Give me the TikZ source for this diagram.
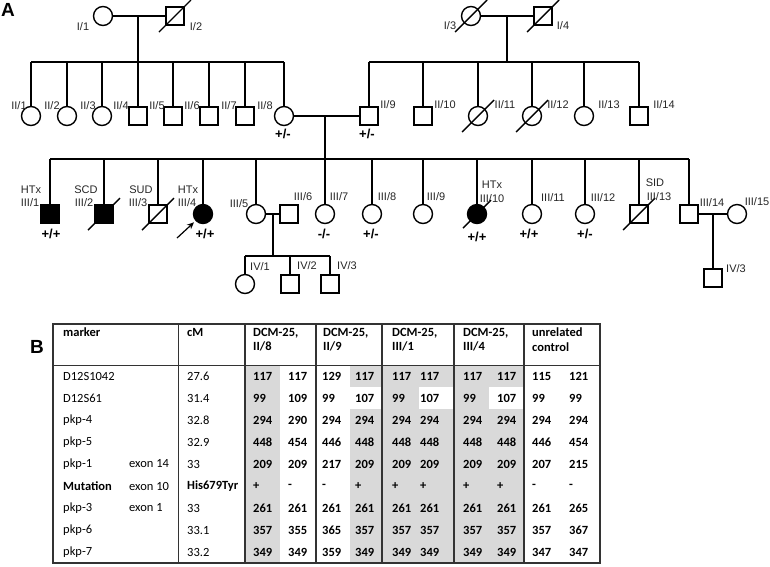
\documentclass[tikz,border=0pt]{standalone}
\usepackage{fontspec}
\setmainfont{Liberation Sans}
\newfontfamily\tabfont{Carlito}
\usetikzlibrary{arrows.meta,calc}
\newcommand\dslash[2][16]{\draw[ped] ($(#2)+(-#1,#1)$) -- ($(#2)+(#1,-#1)$);}
\newcommand\rowvals[2]{\foreach \v [count=\i from 0] in {#2} {\pgfmathsetmacro\xx{{253,288,322,355,392,420,463,497,532,569}[\i]}\node[tnum] (v-#1-\i) at (\xx,#1) {\v};}}
\begin{document}
\begin{tikzpicture}[x=1pt,y=-1pt,
  ped/.style={line width=1.4pt,black},
  male/.style={draw,line width=1.4pt,minimum size=18pt,inner sep=0pt,rectangle,fill=white},
  female/.style={draw,line width=1.4pt,minimum size=19pt,inner sep=0pt,circle,fill=white},
  aff/.style={fill=black},
  lbl/.style={font=\fontsize{11}{12}\selectfont,inner sep=0pt,text=black!85},
  geno/.style={font=\bfseries\fontsize{13}{14}\selectfont,inner sep=0pt},
  panel/.style={font=\bfseries\fontsize{19}{20}\selectfont,inner sep=0pt},
  tcell/.style={font=\tabfont\fontsize{12.5}{14}\selectfont,inner sep=0pt,anchor=west},
  thead/.style={font=\tabfont\bfseries\fontsize{12.5}{14.5}\selectfont,inner sep=0pt,anchor=north west,align=left},
  tnum/.style={font=\tabfont\bfseries\fontsize{12.5}{14}\selectfont,inner sep=0pt,anchor=west},
  grid/.style={draw=black!80}
]
\useasboundingbox (0,0) rectangle (770,566);
\node[panel] (A) at (8,10) {A};
\node[panel] (B) at (37,347) {B};

% ---------------- Generation I
\coordinate (m1) at (138,16);
\coordinate (m2) at (507,16);
\coordinate (s2a) at (138,62);
\coordinate (s2b) at (507,62);
\draw[ped] (m1) -- (s2a);
\draw[ped] (m2) -- (s2b);
\node[female] (I1) at (103,16) {};
\node[male] (I2) at (175,16) {};
\node[female] (I3) at (471,16) {};
\node[male] (I4) at (543,16) {};
\draw[ped] (I1) -- (I2);
\draw[ped] (I3) -- (I4);
\dslash{I2}
\dslash{I3}
\dslash{I4}
\node[lbl] (lI1) at (83,27) {I/1};
\node[lbl] (lI2) at (196,27) {I/2};
\node[lbl] (lI3) at (450,26) {I/3};
\node[lbl] (lI4) at (563,26) {I/4};

% ---------------- Generation II
\node[female] (II1) at (31,116) {};
\node[female] (II2) at (67,116) {};
\node[female] (II3) at (102,116) {};
\node[male] (II4) at (138,116) {};
\node[male] (II5) at (173,116) {};
\node[male] (II6) at (209,116) {};
\node[male] (II7) at (245,116) {};
\node[female] (II8) at (284,116) {};
\node[male] (II9) at (369,116) {};
\node[male] (II10) at (423,116) {};
\node[female] (II11) at (478,116) {};
\node[female] (II12) at (532,116) {};
\node[female] (II13) at (584,116) {};
\node[male] (II14) at (639,116) {};
\draw[ped] (II1 |- s2a) -- (II8 |- s2a);
\foreach \n in {II1,II2,II3,II4,II5,II6,II7,II8} \draw[ped] (\n |- s2a) -- (\n);
\draw[ped] (II9 |- s2b) -- (II14 |- s2b);
\foreach \n in {II9,II10,II11,II12,II13,II14} \draw[ped] (\n |- s2b) -- (\n);
\dslash{II11}
\dslash{II12}
\node[lbl] (lII1) at (19,106) {II/1};
\node[lbl] (lII2) at (52,106) {II/2};
\node[lbl] (lII3) at (88,106) {II/3};
\node[lbl] (lII4) at (121,106) {II/4};
\node[lbl] (lII5) at (157,106) {II/5};
\node[lbl] (lII6) at (192,106) {II/6};
\node[lbl] (lII7) at (229,106) {II/7};
\node[lbl] (lII8) at (265,106) {II/8};
\node[lbl] (lII9) at (388,105) {II/9};
\node[lbl] (lII10) at (445,105) {II/10};
\node[lbl] (lII11) at (505,105) {II/11};
\node[lbl] (lII12) at (558,105) {II/12};
\node[lbl] (lII13) at (609,105) {II/13};
\node[lbl] (lII14) at (664,105) {II/14};
\node[geno] (gII8) at (283,134) {+/-};
\node[geno] (gII9) at (367,134) {+/-};
\draw[ped] (II8) -- (II9);
\coordinate (m3) at (325,116);
\coordinate (s3) at (325,159);
\draw[ped] (m3) -- (s3);

% ---------------- Generation III
\node[male,aff] (III1) at (50,214) {};
\node[male,aff] (III2) at (104,214) {};
\node[male] (III3) at (158,214) {};
\node[female,aff] (III4) at (203,214) {};
\node[female] (III5) at (256,214) {};
\node[male] (III6) at (289,214) {};
\node[female] (III7) at (325,214) {};
\node[female] (III8) at (372,214) {};
\node[female] (III9) at (423,214) {};
\node[female,aff] (III10) at (477,214) {};
\node[female] (III11) at (532,214) {};
\node[female] (III12) at (585,214) {};
\node[male] (III13) at (639,214) {};
\node[male] (III14) at (689,214) {};
\node[female] (III15) at (737,214) {};
\draw[ped] (III1 |- s3) -- (III14 |- s3);
\foreach \n in {III1,III2,III3,III4,III5,III7,III8,III9,III10,III11,III12,III13,III14} \draw[ped] (\n |- s3) -- (\n);
\dslash{III2}
\dslash{III3}
\dslash[14]{III10}
\dslash{III13}
\draw[ped] (III5) -- (III6);
\draw[ped] (III14) -- (III15);
\coordinate (proband) at (177,238);
\draw[line width=1.2pt,-{Stealth[length=7pt,width=6pt]},shorten >=2pt] (proband) -- (III4);
\node[lbl] (hIII1) at (31,190) {HTx};
\node[lbl] (lIII1) at (30,203) {III/1};
\node[lbl] (hIII2) at (86,190) {SCD};
\node[lbl] (lIII2) at (84,203) {III/2};
\node[lbl] (hIII3) at (141,190) {SUD};
\node[lbl] (lIII3) at (138,203) {III/3};
\node[lbl] (hIII4) at (188,190) {HTx};
\node[lbl] (lIII4) at (187,203) {III/4};
\node[lbl] (lIII5) at (239,204) {III/5};
\node[lbl] (lIII6) at (303,197) {III/6};
\node[lbl] (lIII7) at (339,197) {III/7};
\node[lbl] (lIII8) at (387,197) {III/8};
\node[lbl] (lIII9) at (436,197) {III/9};
\node[lbl] (hIII10) at (492,185) {HTx};
\node[lbl] (lIII10) at (492,199) {III/10};
\node[lbl] (lIII11) at (553,198) {III/11};
\node[lbl] (lIII12) at (603,198) {III/12};
\node[lbl] (hIII13) at (655,183) {SID};
\node[lbl] (lIII13) at (659,197) {III/13};
\node[lbl] (lIII14) at (712,203) {III/14};
\node[lbl] (lIII15) at (757,202) {III/15};
\node[geno] (gIII1) at (51,234) {+/+};
\node[geno] (gIII4) at (205,234) {+/+};
\node[geno] (gIII7) at (324,234) {-/-};
\node[geno] (gIII8) at (371,234) {+/-};
\node[geno] (gIII10) at (477,237) {+/+};
\node[geno] (gIII11) at (529,234) {+/+};
\node[geno] (gIII12) at (585,234) {+/-};

% ---------------- Generation IV
\coordinate (m4) at (273,214);
\coordinate (s4) at (273,256);
\draw[ped] (m4) -- (s4);
\node[female] (IV1) at (245,284) {};
\node[male] (IV2) at (290,284) {};
\node[male] (IV3) at (330,284) {};
\draw[ped] (IV1 |- s4) -- (IV3 |- s4);
\foreach \n in {IV1,IV2,IV3} \draw[ped] (\n |- s4) -- (\n);
\node[lbl] (lIV1) at (260,267) {IV/1};
\node[lbl] (lIV2) at (307,266) {IV/2};
\node[lbl] (lIV3) at (347,266) {IV/3};
\coordinate (m5) at (713,214);
\node[male] (IV3b) at (713,278) {};
\draw[ped] (m5) -- (IV3b);
\node[lbl] (lIV3b) at (736,269) {IV/3};

% ---------------- Table
\fill[black!15] (246,365) rectangle (280,563);
\fill[black!15] (350,365) rectangle (382,387);
\fill[black!15] (350,409) rectangle (382,563);
\fill[black!15] (382,365) rectangle (524,563);
\fill[white] (419,387) rectangle (454,409);
\fill[white] (489,387) rectangle (524,409);
\draw[grid,line width=0.8pt] (178,324) -- (178,563);
\draw[grid,line width=0.9pt] (53,365) -- (600,365);
\draw[grid,line width=1.5pt] (316,324) -- (316,563);
\draw[grid,line width=1.5pt] (382,324) -- (382,563);
\draw[grid,line width=1.5pt] (454,324) -- (454,563);
\draw[grid,line width=1.5pt] (524,324) -- (524,563);
\draw[grid,line width=2.6pt] (245,324) -- (245,563);
\draw[grid,line width=2pt] (53,324) rectangle (600,563);

\node[thead] (hmarker) at (63,328) {marker};
\node[thead] (hcm) at (187,328) {cM};
\node[thead] (h1) at (253,328) {DCM-25,\\II/8};
\node[thead] (h2) at (323,328) {DCM-25,\\II/9};
\node[thead] (h3) at (392,328) {DCM-25,\\III/1};
\node[thead] (h4) at (463,328) {DCM-25,\\III/4};
\node[thead] (h5) at (532,328) {unrelated\\control};

\node[tcell] (r1) at (63,376) {D12S1042};
\node[tcell] (c1) at (187,376) {27.6};
\rowvals{376}{117,117,129,117,117,117,117,117,115,121}
\node[tcell] (r2) at (63,398) {D12S61};
\node[tcell] (c2) at (187,398) {31.4};
\rowvals{398}{99,109,99,107,99,107,99,107,99,99}
\node[tcell] (r3) at (63,420) {pkp-4};
\node[tcell] (c3) at (187,420) {32.8};
\rowvals{420}{294,290,294,294,294,294,294,294,294,294}
\node[tcell] (r4) at (63,442) {pkp-5};
\node[tcell] (c4) at (187,442) {32.9};
\rowvals{442}{448,454,446,448,448,448,448,448,446,454}
\node[tcell] (r5) at (63,464) {pkp-1};
\node[tcell] (e5) at (129,464) {exon 14};
\node[tcell] (c5) at (187,464) {33};
\rowvals{464}{209,209,217,209,209,209,209,209,207,215}
\node[tcell,font=\tabfont\bfseries\fontsize{12.5}{14}\selectfont] (r6) at (63,486) {Mutation};
\node[tcell] (e6) at (129,486) {exon 10};
\node[tcell,font=\tabfont\bfseries\fontsize{12.5}{14}\selectfont] (c6) at (187,486) {His679Tyr};
\rowvals{486}{+,-,-,+,+,+,+,+,-,-}
\node[tcell] (r7) at (63,508) {pkp-3};
\node[tcell] (e7) at (129,508) {exon 1};
\node[tcell] (c7) at (187,508) {33};
\rowvals{508}{261,261,261,261,261,261,261,261,261,265}
\node[tcell] (r8) at (63,530) {pkp-6};
\node[tcell] (c8) at (187,530) {33.1};
\rowvals{530}{357,355,365,357,357,357,357,357,357,367}
\node[tcell] (r9) at (63,552) {pkp-7};
\node[tcell] (c9) at (187,552) {33.2};
\rowvals{552}{349,349,359,349,349,349,349,349,347,347}
\end{tikzpicture}
\end{document}
